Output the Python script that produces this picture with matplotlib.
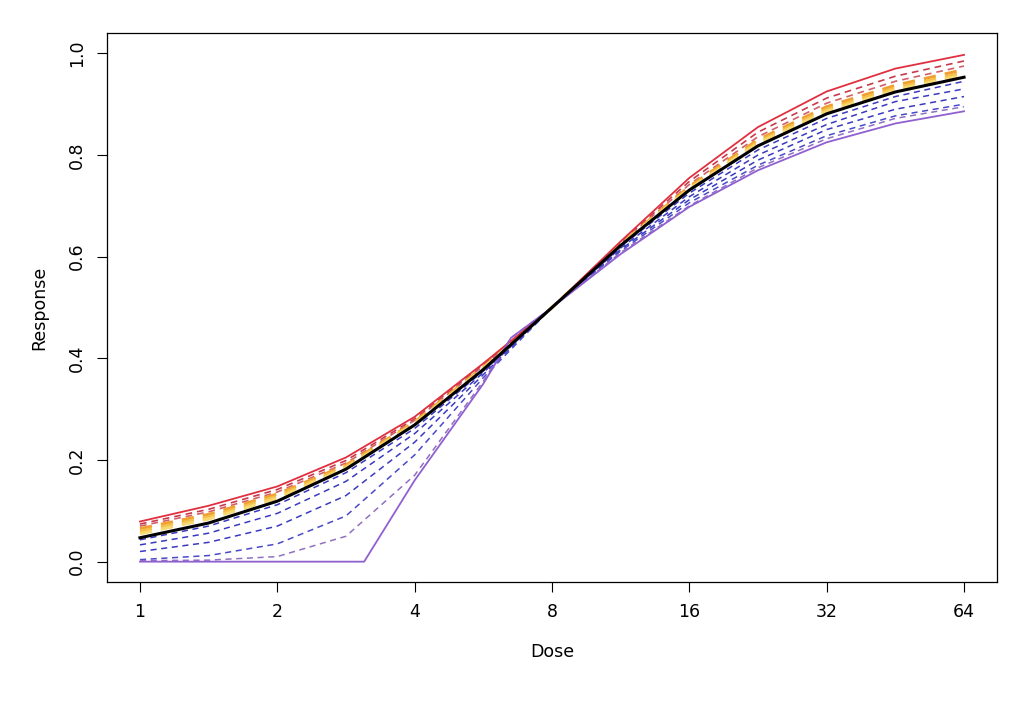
import matplotlib
matplotlib.use("Agg")
import matplotlib.pyplot as plt
import matplotlib.ticker as mticker

# dose grid (half log2 steps from 1 to 64)
DOSE = [1, 1.414, 2, 2.828, 4, 5.657, 8, 11.31, 16, 22.63, 32, 45.25, 64]

# warm family (top)
RED_SOLID = [.079, .11, .148, .205, .285, .39, .5, .63, .755, .855, .925, .97, .997]
RED_DASH1 = [.074, .103, .142, .199, .281, .388, .5, .628, .748, .845, .912, .955, .985]
RED_DASH2 = [.070, .098, .137, .194, .278, .385, .5, .626, .742, .836, .902, .945, .975]
ORANGE = [.065, .093, .133, .190, .275, .383, .5, .625, .738, .830, .895, .937, .968]
YELLOW1 = [.060, .088, .129, .187, .273, .381, .5, .624, .735, .826, .89, .932, .962]
YELLOW2 = [.055, .084, .125, .184, .271, .380, .5, .623, .733, .823, .886, .928, .958]
# reference curve
BLACK = [.047, .076, .119, .182, .269, .378, .5, .622, .731, .818, .881, .924, .953]
# cool family (bottom)
BLUE1 = [.043, .070, .112, .175, .262, .375, .5, .62, .725, .81, .872, .915, .945]
BLUE2 = [.033, .056, .095, .158, .252, .372, .5, .617, .718, .80, .86, .905, .93]
BLUE3 = [.020, .038, .07, .13, .235, .368, .5, .614, .712, .79, .85, .89, .915]
BLUE4 = [.004, .012, .035, .09, .21, .362, .5, .611, .706, .78, .838, .877, .90]
PURPLE_DOSE2 = [1, 1.414, 2, 2.828, 4, 5.657, 6.5, 8, 11.31, 16, 22.63, 32, 45.25, 64]
PURPLE_DASH = [.002, .003, .01, .05, .17, .355, .44, .5, .608, .70, .775, .832, .872, .895]
PURPLE_DOSE = [1, 3.1, 4, 5.657, 6.5, 8, 11.31, 16, 22.63, 32, 45.25, 64]
PURPLE_SOLID = [0, 0, .16, .35, .44, .5, .605, .698, .77, .825, .862, .886]

TICKS = [1, 2, 4, 8, 16, 32, 64]

fig = plt.figure(figsize=(10.24, 7.16), dpi=100)
ax = fig.add_axes([107 / 1024, 1 - 582 / 716, 890 / 1024, 549 / 716])

dashed = [
    (DOSE, RED_DASH1, "#c83a4a", 1.2),
    (DOSE, RED_DASH2, "#d0606a", 1.2),
    (DOSE, ORANGE, "#f0a030", 2.2),
    (DOSE, YELLOW1, "#f5c048", 2.2),
    (DOSE, YELLOW2, "#f8d870", 2.2),
    (DOSE, BLUE1, "#3a3ac0", 1.1),
    (DOSE, BLUE2, "#3a3ac0", 1.1),
    (DOSE, BLUE3, "#3a3ac0", 1.1),
    (DOSE, BLUE4, "#4a4ac8", 1.1),
    (PURPLE_DOSE2, PURPLE_DASH, "#9070c0", 1.1),
]
for xs, vals, col, lw in dashed:
    ax.plot(xs, vals, color=col, lw=lw, ls=(0, (4, 3)))
ax.plot(DOSE, RED_SOLID, color="#e03040", lw=1.3)
ax.plot(PURPLE_DOSE, PURPLE_SOLID, color="#9060d0", lw=1.3)
ax.plot(DOSE, BLACK, color="black", lw=2.2)

ax.set_xscale("log", base=2)
ax.set_xlim(2 ** -0.24, 2 ** 6.24)
ax.set_ylim(-0.04, 1.04)
ax.set_xticks(TICKS)
ax.set_xticklabels([str(t) for t in TICKS])
ax.xaxis.set_minor_locator(mticker.NullLocator())
ax.set_yticks([0, 0.2, 0.4, 0.6, 0.8, 1.0])
ax.set_yticklabels(["0.0", "0.2", "0.4", "0.6", "0.8", "1.0"], rotation=90, va="center")
ax.tick_params(labelsize=12.5, length=7, pad=8)
ax.set_xlabel("Dose", fontsize=12.5, labelpad=16)
ax.set_ylabel("Response", fontsize=12.5, labelpad=14)
for s in ax.spines.values():
    s.set_linewidth(0.9)

fig.savefig("out.png", dpi=100)
